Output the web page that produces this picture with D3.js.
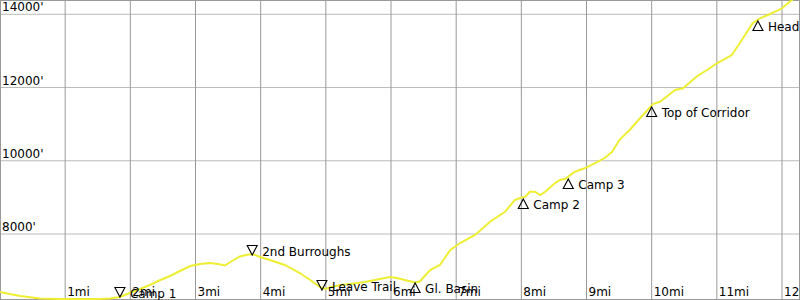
<!DOCTYPE html>
<html>
<head>
    <meta charset="utf-8" />
    <title>Elevation profile</title>
    <script type="text/javascript" src="https://d3js.org/d3.v7.min.js"></script>
    <style>
        body { margin: 0; background: #fff; }
        text { font-family: "DejaVu Sans", sans-serif; font-size: 12px; fill: #000; }
        .line { fill: none; stroke: #eeee33; stroke-width: 2px; }
        .tri { fill: none; stroke: #000; stroke-width: 1.1px; }
    </style>
</head>
<body>
<script type="text/javascript">
    // track profile: distance in miles, elevation in feet
    var miles = [0.00, 0.15, 0.31, 0.61, 0.92, 1.23, 1.53, 1.69, 1.84, 1.99, 2.15, 2.30, 2.46, 2.61, 2.76, 2.92,
        3.07, 3.22, 3.35, 3.45, 3.56, 3.68, 3.81, 3.90, 3.99, 4.14, 4.37, 4.60, 4.76, 4.91, 4.99, 5.06, 5.22, 5.37,
        5.60, 5.83, 5.98, 6.09, 6.21, 6.37, 6.44, 6.60, 6.75, 6.91, 6.98, 7.06, 7.29, 7.52, 7.75, 7.90, 7.98, 8.06,
        8.13, 8.21, 8.29, 8.36, 8.52, 8.59, 8.67, 8.82, 8.98, 9.13, 9.28, 9.39, 9.51, 9.67, 9.82, 10.02, 10.13,
        10.36, 10.48, 10.70, 10.85, 11.00, 11.23, 11.40, 11.55, 11.66, 11.82, 12.00, 12.15, 12.28];
    var elev = [6416, 6361, 6307, 6239, 6225, 6225, 6225, 6239, 6280, 6389, 6498, 6607, 6744, 6853, 6990, 7126,
        7181, 7208, 7181, 7140, 7263, 7386, 7440, 7440, 7372, 7290, 7154, 6935, 6744, 6553, 6498, 6539, 6607, 6635,
        6689, 6771, 6826, 6798, 6744, 6676, 6703, 7017, 7154, 7564, 7653, 7754, 7973, 8336, 8609, 8929, 8983, 9019,
        9155, 9155, 9065, 9147, 9393, 9475, 9502, 9701, 9802, 9938, 10075, 10239, 10580, 10853, 11160, 11550, 11613,
        11933, 11979, 12315, 12479, 12662, 12888, 13345, 13754, 13891, 14008, 14164, 14391, 14500];

    // waypoints
    var wpNames = ["Camp 1", "2nd Burroughs", "Leave Trail", "Gl. Basin", "Camp 2", "Camp 3", "Top of Corridor", "Head"];
    var wpMiles = [1.84, 3.87, 4.94, 6.37, 8.03, 8.72, 10.0, 11.63];
    var wpElev = [6280, 7427, 6471, 6662, 8956, 9502, 11468, 13817];
    var wpDown = [true, true, true, false, false, false, false, false];

    var xTicks = [1, 2, 3, 4, 5, 6, 7, 8, 9, 10, 11, 12];
    var yTicks = [8000, 10000, 12000, 14000];

    var width = 800, height = 300;

    var x = d3.scaleLinear().domain([0, 12.276]).range([0, width]);
    var y = d3.scaleLinear().domain([6198, 14390]).range([height, 0]);

    var svg = d3.select("body").append("svg")
        .attr("width", width)
        .attr("height", height);

    // horizontal grid
    svg.append("g").selectAll("line").data(yTicks).enter().append("line")
        .attr("x1", 0).attr("x2", width)
        .attr("y1", function(d) { return y(d); })
        .attr("y2", function(d) { return y(d); })
        .attr("stroke", "#bbb");

    // vertical grid
    svg.append("g").selectAll("line").data(xTicks).enter().append("line")
        .attr("x1", function(d) { return x(d); })
        .attr("x2", function(d) { return x(d); })
        .attr("y1", 0).attr("y2", height)
        .attr("stroke", "#999");

    // frame
    svg.append("rect")
        .attr("x", 0.5).attr("y", 0.5)
        .attr("width", width - 1).attr("height", height - 1)
        .attr("fill", "none").attr("stroke", "#999");

    var pts = miles.map(function(m, i) { return [m, elev[i]]; });
    var valueline = d3.line()
        .x(function(d) { return x(d[0]); })
        .y(function(d) { return y(d[1]); });

    svg.append("path")
        .datum(pts)
        .attr("class", "line")
        .attr("d", valueline);

    svg.append("g").selectAll("text").data(yTicks).enter().append("text")
        .attr("x", 2)
        .attr("y", function(d) { return y(d) - 3; })
        .text(function(d) { return d + "'"; });

    svg.append("g").selectAll("text").data(xTicks).enter().append("text")
        .attr("x", function(d) { return x(d) + 2; })
        .attr("y", 296)
        .text(function(d) { return d + "mi"; });

    // waypoint markers: triangle tip sits on the point
    var wp = svg.append("g").selectAll("g").data(wpNames).enter().append("g")
        .attr("transform", function(d, i) {
            return "translate(" + x(wpMiles[i]) + "," + y(wpElev[i]) + ")";
        });

    wp.append("path")
        .attr("class", "tri")
        .attr("d", function(d, i) {
            return wpDown[i] ? "M0,0L-5,-9.5L5,-9.5Z" : "M0,0L5,9.5L-5,9.5Z";
        });

    wp.append("text")
        .attr("x", 10)
        .attr("y", function(d, i) { return wpDown[i] ? 1 : 10; })
        .text(function(d) { return d; });
</script>
</body>
</html>
